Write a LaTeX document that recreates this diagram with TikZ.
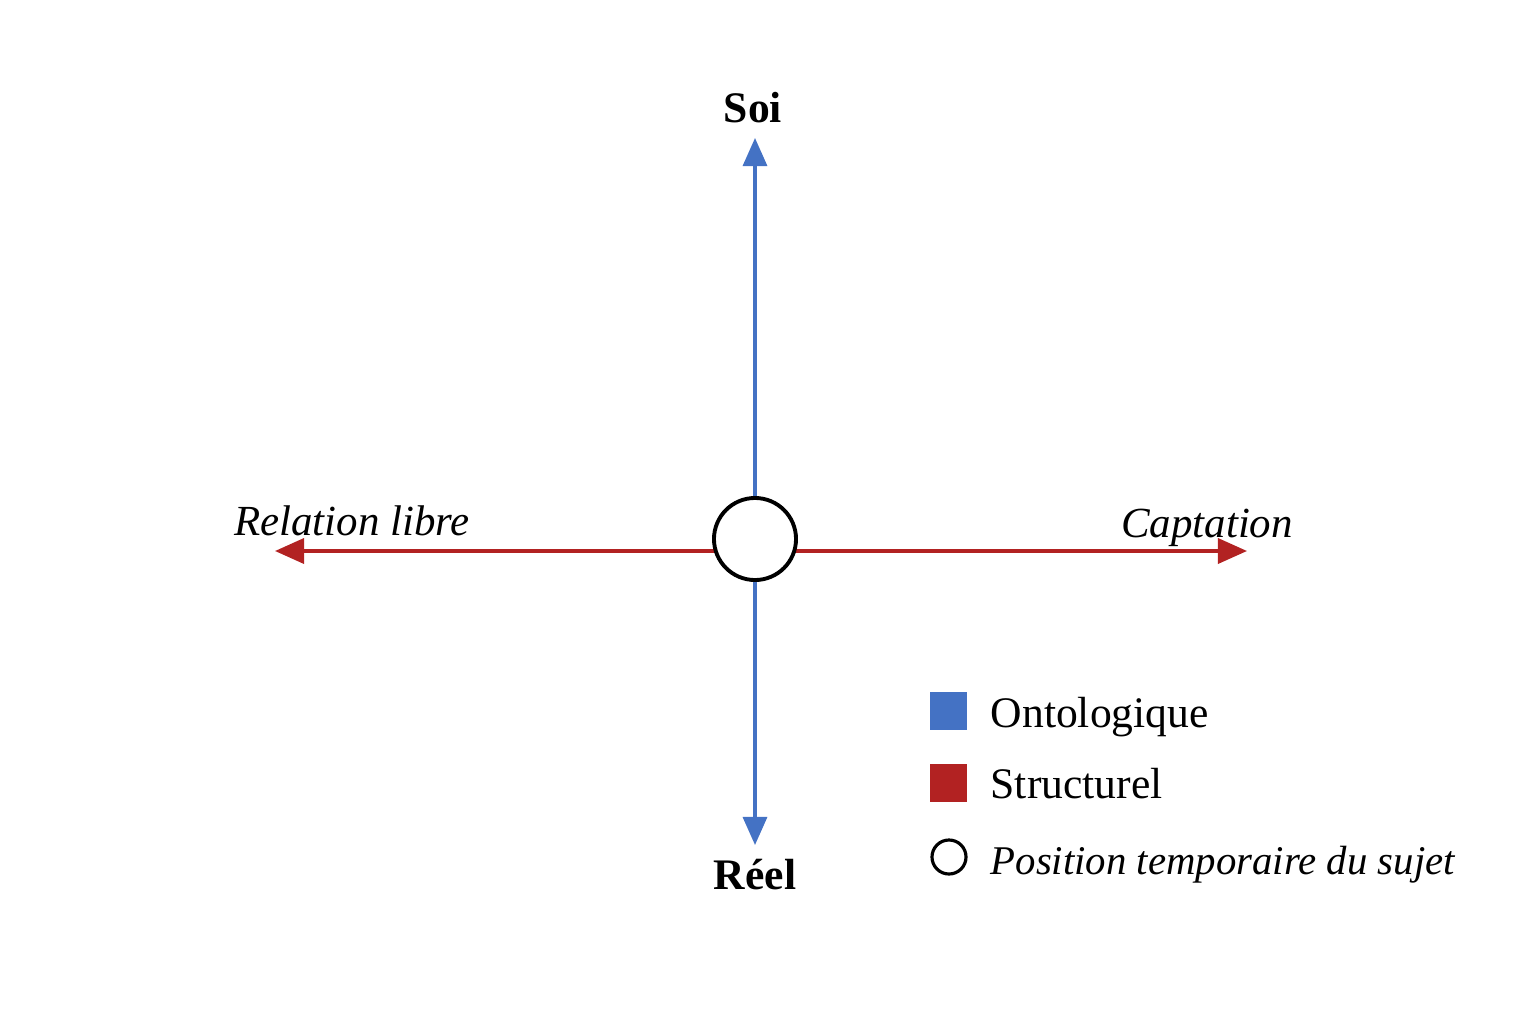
\documentclass[tikz,border=0pt]{standalone}
\usepackage{fontspec}
\setmainfont{Liberation Serif}
\usepackage{tikz}
\usetikzlibrary{arrows.meta, positioning}
\definecolor{ontoblue}{RGB}{68,114,196}
\definecolor{structred}{RGB}{178,34,34}
\tikzset{
  pole/.style={font=\fontsize{12.4}{15}\selectfont\bfseries, anchor=base, inner sep=0pt},
  tendance/.style={font=\fontsize{12.2}{15}\selectfont\itshape, anchor=base, inner sep=0pt},
  legtext/.style={font=\fontsize{12.4}{15}\selectfont, anchor=base west, inner sep=0pt},
  subject/.style={circle, draw=black, line width=1.1pt, fill=white, minimum size=0.82cm, inner sep=0pt},
  onto/.style={draw=ontoblue, line width=0.9pt, -{Triangle[length=0.28cm, width=0.24cm]}},
  struct/.style={draw=structred, line width=1pt, -{Triangle[length=0.29cm, width=0.25cm]}},
  swatch/.style={minimum size=0.37cm, inner sep=0pt}
}
\begin{document}
\begin{tikzpicture}[x=0.01cm, y=-0.01cm]
  \useasboundingbox (0,0) rectangle (1536,1024);
  % axes
  \coordinate (top) at (755,138);
  \coordinate (bot) at (755,845);
  \coordinate (hl) at (716,551);
  \coordinate (hr) at (794,551);
  \coordinate (lend) at (275,551);
  \coordinate (rend) at (1247,551);
  \draw[struct] (hl) -- (lend);
  \draw[struct] (hr) -- (rend);
  \node[subject] (subj) at (755,539) {};
  \draw[onto] (subj.north) -- (top);
  \draw[onto] (subj.south) -- (bot);
  % labels
  \node[pole] (soi) at (753,122) {Soi};
  \node[pole] (reel) at (755,889) {Réel};
  \node[tendance] (libre) at (352,535) {Relation libre};
  \node[tendance] (capt) at (1207,537) {Captation};
  % legend
  \node[swatch, fill=ontoblue] (lgonto) at (948,711) {};
  \node[swatch, fill=structred] (lgstruct) at (948,783) {};
  \node[circle, draw=black, line width=0.9pt, minimum size=0.34cm, inner sep=0pt] (lgsubj) at (949,857) {};
  \node[legtext] (txonto) at (990,727) {Ontologique};
  \node[legtext] (txstruct) at (990,798) {Structurel};
  \node[legtext, font=\fontsize{11.6}{15}\selectfont\itshape] (txsubj) at (990,874) {Position temporaire du sujet};
\end{tikzpicture}
\end{document}
